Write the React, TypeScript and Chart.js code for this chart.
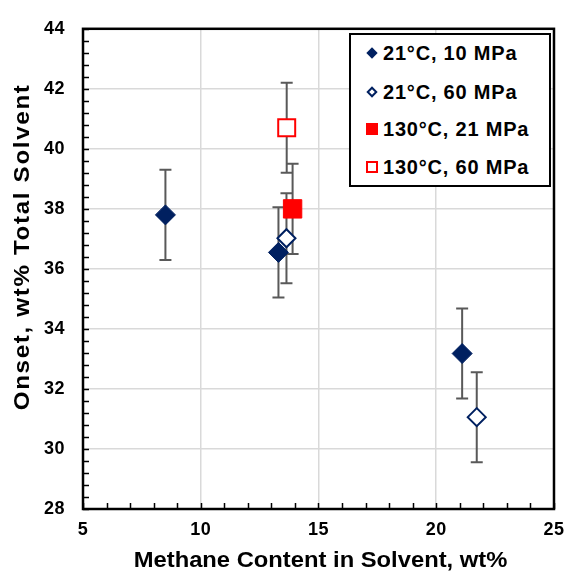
import React, { useEffect, useRef } from 'react';
import { Chart, registerables } from 'chart.js';

Chart.register(...registerables);

// Series labels
const seriesLabels = ['21°C, 10 MPa', '21°C, 60 MPa', '130°C, 21 MPa', '130°C, 60 MPa'];

// 21 °C, 10 MPa
const methane21c10 = [8.5, 13.3, 21.1];
const onset21c10 = [37.8, 36.55, 33.18];
const err21c10 = [1.5, 1.5, 1.5];

// 21 °C, 60 MPa
const methane21c60 = [13.64, 21.72];
const onset21c60 = [37.02, 31.06];
const err21c60 = [1.5, 1.5];

// 130 °C, 21 MPa
const methane130c21 = [13.9];
const onset130c21 = [38.0];
const err130c21 = [1.5];

// 130 °C, 60 MPa
const methane130c60 = [13.65];
const onset130c60 = [40.7];
const err130c60 = [1.5];

// Axis ticks and titles
const xTicks = [5, 10, 15, 20, 25];
const yTicks = [28, 30, 32, 34, 36, 38, 40, 42, 44];
const xTitle = 'Methane Content in Solvent, wt%';
const yTitle = 'Onset, wt% Total Solvent';

const NAVY = '#002060';
const RED = '#ff0000';
const ERR_COLOR = '#595959';
const FONT_FAMILY = "'Liberation Sans', Arial, sans-serif";

const toPoints = (xs: number[], ys: number[]) => xs.map((x, i) => ({ x, y: ys[i] }));

const errorsByDataset = [err21c10, err21c60, err130c21, err130c60];

// Vertical error bars with caps, drawn under the markers
const errorBarPlugin = {
  id: 'errorBars',
  beforeDatasetsDraw(chart: any) {
    const { ctx } = chart;
    const yScale = chart.scales.y;
    ctx.save();
    ctx.strokeStyle = ERR_COLOR;
    ctx.lineWidth = 2;
    chart.data.datasets.forEach((ds: any, di: number) => {
      const meta = chart.getDatasetMeta(di);
      const errs = errorsByDataset[di];
      meta.data.forEach((el: any, i: number) => {
        const v = ds.data[i].y;
        const e = errs[i];
        const yTop = yScale.getPixelForValue(v + e);
        const yBot = yScale.getPixelForValue(v - e);
        const x = el.x;
        const cap = 6;
        ctx.beginPath();
        ctx.moveTo(x, yTop);
        ctx.lineTo(x, yBot);
        ctx.moveTo(x - cap, yTop);
        ctx.lineTo(x + cap, yTop);
        ctx.moveTo(x - cap, yBot);
        ctx.lineTo(x + cap, yBot);
        ctx.stroke();
      });
    });
    ctx.restore();
  },
};

// Plot frame plus inward minor tick marks on the left and bottom axes
const framePlugin = {
  id: 'plotFrame',
  beforeDraw(chart: any) {
    chart.ctx.letterSpacing = '0.5px';
  },
  beforeDatasetsDraw(chart: any) {
    const { ctx, chartArea: a } = chart;
    const xs = chart.scales.x;
    const ys = chart.scales.y;
    ctx.save();
    ctx.strokeStyle = '#000';
    ctx.lineWidth = 1.5;
    ctx.beginPath();
    for (let v = xs.min; v <= xs.max + 1e-9; v += 1) {
      const px = Math.round(xs.getPixelForValue(v)) + 0.5;
      ctx.moveTo(px, a.bottom);
      ctx.lineTo(px, a.bottom - 6);
    }
    const steps = Math.round((ys.max - ys.min) / 0.4);
    for (let i = 0; i <= steps; i++) {
      const py = Math.round(ys.getPixelForValue(ys.min + i * 0.4)) + 0.5;
      ctx.moveTo(a.left, py);
      ctx.lineTo(a.left + 6, py);
    }
    ctx.stroke();
    ctx.lineWidth = 2.5;
    ctx.strokeRect(a.left, a.top, a.right - a.left, a.bottom - a.top);
    ctx.restore();
  },
};

// Axis titles, set in a slightly widened bold face
const axisTitlePlugin = {
  id: 'axisTitles',
  afterDraw(chart: any) {
    const { ctx, chartArea: a } = chart;
    ctx.save();
    ctx.fillStyle = '#000';
    ctx.textAlign = 'center';
    ctx.textBaseline = 'middle';
    ctx.letterSpacing = '0px';
    ctx.font = `bold 22px ${FONT_FAMILY}`;
    ctx.save();
    ctx.translate((a.left + a.right) / 2 + 2, chart.height - 16);
    ctx.scale(1.08, 1);
    ctx.fillText(xTitle, 0, 0);
    ctx.restore();
    ctx.save();
    ctx.translate(23, (a.top + a.bottom) / 2 - 22);
    ctx.rotate(-Math.PI / 2);
    ctx.scale(1.1, 1);
    ctx.letterSpacing = '1.5px';
    ctx.fillText(yTitle, 0, 0);
    ctx.restore();
    ctx.restore();
  },
};

const legendRows = [
  { label: seriesLabels[0], kind: 'diamondFilled', cy: 53 },
  { label: seriesLabels[1], kind: 'diamondOpen', cy: 92 },
  { label: seriesLabels[2], kind: 'squareFilled', cy: 129 },
  { label: seriesLabels[3], kind: 'squareOpen', cy: 167 },
];

function LegendMarker({ kind }: { kind: string }) {
  const base: React.CSSProperties = {
    position: 'absolute',
    boxSizing: 'border-box',
    left: '50%',
    top: '50%',
  };
  if (kind === 'diamondFilled' || kind === 'diamondOpen') {
    return (
      <div
        style={{
          ...base,
          width: 8,
          height: 8,
          marginLeft: -4,
          marginTop: -4,
          transform: 'rotate(45deg)',
          background: kind === 'diamondFilled' ? NAVY : '#fff',
          border: `${kind === 'diamondFilled' ? 0 : 2}px solid ${NAVY}`,
        }}
      />
    );
  }
  return (
    <div
      style={{
        ...base,
        width: 12,
        height: 12,
        marginLeft: -6,
        marginTop: -6,
        background: kind === 'squareFilled' ? RED : '#fff',
        border: `${kind === 'squareFilled' ? 0 : 2}px solid ${RED}`,
      }}
    />
  );
}

export default function App() {
  const canvasRef = useRef<HTMLCanvasElement | null>(null);

  useEffect(() => {
    if (!canvasRef.current) return;
    const chart = new Chart(canvasRef.current, {
      type: 'scatter',
      data: {
        datasets: [
          {
            label: seriesLabels[0],
            data: toPoints(methane21c10, onset21c10),
            pointStyle: 'rectRot',
            pointRadius: 10,
            pointBackgroundColor: NAVY,
            pointBorderColor: NAVY,
            pointBorderWidth: 1,
            order: 3,
          },
          {
            label: seriesLabels[1],
            data: toPoints(methane21c60, onset21c60),
            pointStyle: 'rectRot',
            pointRadius: 9,
            pointBackgroundColor: '#ffffff',
            pointBorderColor: NAVY,
            pointBorderWidth: 2,
            order: 2,
          },
          {
            label: seriesLabels[2],
            data: toPoints(methane130c21, onset130c21),
            pointStyle: 'rect',
            pointRadius: 13,
            pointBackgroundColor: RED,
            pointBorderColor: RED,
            pointBorderWidth: 1,
            order: 1,
          },
          {
            label: seriesLabels[3],
            data: toPoints(methane130c60, onset130c60),
            pointStyle: 'rect',
            pointRadius: 12,
            pointBackgroundColor: '#ffffff',
            pointBorderColor: RED,
            pointBorderWidth: 2,
            order: 0,
          },
        ],
      },
      options: {
        responsive: false,
        animation: false,
        layout: { padding: { left: 0, right: 14, top: 21, bottom: 0 } },
        plugins: {
          legend: { display: false },
          tooltip: { enabled: false },
        },
        scales: {
          x: {
            type: 'linear',
            min: xTicks[0],
            max: xTicks[xTicks.length - 1],
            afterBuildTicks: (scale: any) => {
              scale.ticks = xTicks.map((v) => ({ value: v }));
            },
            afterFit: (scale: any) => {
              scale.height = 68;
            },
            border: { display: false },
            grid: { color: '#d9d9d9', lineWidth: 1.5, drawTicks: false },
            ticks: {
              padding: 10,
              color: '#000',
              font: { family: FONT_FAMILY, size: 18, weight: 'bold' },
            },
            title: { display: false, text: xTitle },
          },
          y: {
            type: 'linear',
            min: yTicks[0],
            max: yTicks[yTicks.length - 1],
            afterBuildTicks: (scale: any) => {
              scale.ticks = yTicks.map((v) => ({ value: v }));
            },
            afterFit: (scale: any) => {
              scale.width = 83;
            },
            border: { display: false },
            grid: { color: '#d9d9d9', lineWidth: 1.5, drawTicks: false },
            ticks: {
              padding: 18,
              color: '#000',
              font: { family: FONT_FAMILY, size: 18, weight: 'bold' },
            },
            title: { display: false, text: yTitle },
          },
        },
      },
      plugins: [framePlugin, errorBarPlugin, axisTitlePlugin],
    } as any);
    return () => chart.destroy();
  }, []);

  return (
    <div style={{ position: 'absolute', left: 0, top: 0, width: 574, height: 577, background: '#fff' }}>
      <canvas ref={canvasRef} width={574} height={577} style={{ display: 'block' }} />
      <div
        style={{
          position: 'absolute',
          left: 349,
          top: 33,
          width: 202,
          height: 154,
          boxSizing: 'border-box',
          border: '2px solid #000',
          background: '#fff',
        }}
      />
      {legendRows.map((row) => (
        <React.Fragment key={row.label}>
          <div style={{ position: 'absolute', left: 365, top: row.cy - 8, width: 14, height: 16 }}>
            <LegendMarker kind={row.kind} />
          </div>
          <div
            style={{
              position: 'absolute',
              left: 383,
              top: row.cy - 15,
              height: 30,
              lineHeight: '30px',
              fontFamily: FONT_FAMILY,
              fontWeight: 'bold',
              fontSize: 20,
              letterSpacing: '0.8px',
              color: '#000',
              whiteSpace: 'nowrap',
            }}
          >
            {row.label}
          </div>
        </React.Fragment>
      ))}
    </div>
  );
}
